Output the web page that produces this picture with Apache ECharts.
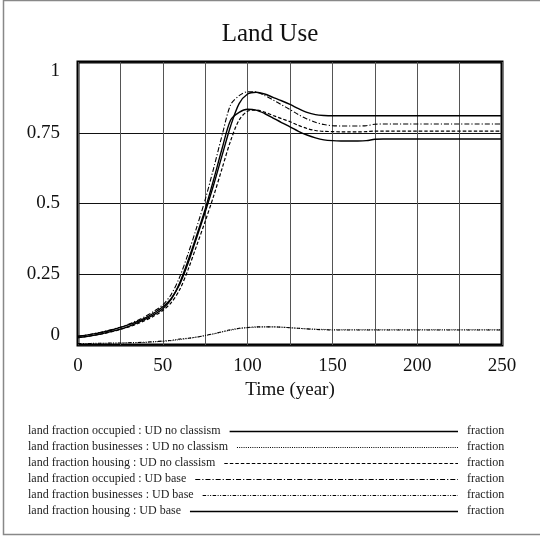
<!DOCTYPE html>
<html><head><meta charset="utf-8">
<script src="https://cdn.jsdelivr.net/npm/echarts@6/dist/echarts.min.js"></script>
<style>html,body{margin:0;padding:0;background:#fff}#c{width:540px;height:540px}</style>
</head><body><div id="c"></div>
<script>
const titleText = 'Land Use';
const xAxisName = 'Time (year)';
const unitText = 'fraction';
const years = [0,5,10,15,20,25,30,35,40,45,50,55,60,65,70,75,80,85,90,95,100,105,110,115,120,125,130,135,140,145,150,155,160,165,170,175,180,185,190,195,200,205,210,215,220,225,230,235,240,245,250];

const occupiedNoClassism = [0.031,0.035,0.040,0.046,0.053,0.062,0.072,0.083,0.097,0.114,
0.135,0.165,0.215,0.291,0.380,0.470,0.566,0.671,0.774,0.853,
0.887,0.893,0.887,0.875,0.863,0.850,0.835,0.822,0.814,0.811,
0.810,0.810,0.810,0.810,0.810,0.810,0.810,0.810,0.810,0.810,
0.810,0.810,0.810,0.810,0.810,0.810,0.810,0.810,0.810,0.810,0.810];

const businessesNoClassism = [0.005,0.005,0.005,0.006,0.006,0.007,0.008,0.008,0.009,0.011,
0.013,0.015,0.019,0.023,0.028,0.033,0.039,0.046,0.052,0.058,
0.061,0.063,0.064,0.064,0.063,0.061,0.059,0.057,0.056,0.055,
0.054,0.054,0.054,0.054,0.054,0.054,0.054,0.054,0.054,0.054,
0.054,0.054,0.054,0.054,0.054,0.054,0.054,0.054,0.054,0.054,0.054];

const housingNoClassism = [0.026,0.030,0.035,0.040,0.047,0.055,0.064,0.075,0.088,0.103,
0.122,0.150,0.196,0.268,0.352,0.437,0.527,0.625,0.722,0.795,
0.826,0.830,0.823,0.811,0.800,0.789,0.776,0.765,0.758,0.755,
0.754,0.753,0.753,0.753,0.754,0.756,0.756,0.756,0.756,0.756,
0.756,0.756,0.756,0.756,0.756,0.756,0.756,0.756,0.756,0.756,0.756];

const occupiedBase = [0.031,0.035,0.041,0.047,0.055,0.063,0.074,0.087,0.102,0.120,
0.142,0.179,0.241,0.324,0.416,0.514,0.625,0.742,0.849,0.881,
0.895,0.894,0.882,0.866,0.849,0.832,0.814,0.799,0.787,0.779,
0.775,0.774,0.774,0.774,0.775,0.780,0.781,0.781,0.781,0.781,
0.781,0.781,0.781,0.781,0.781,0.781,0.781,0.781,0.781,0.781,0.781];

const businessesBase = [0.005,0.005,0.006,0.006,0.007,0.007,0.008,0.009,0.010,0.012,
0.014,0.017,0.021,0.024,0.028,0.034,0.040,0.047,0.054,0.059,
0.062,0.064,0.064,0.064,0.063,0.061,0.059,0.057,0.055,0.054,
0.053,0.053,0.053,0.053,0.053,0.053,0.053,0.053,0.053,0.053,
0.053,0.053,0.053,0.053,0.053,0.053,0.053,0.053,0.053,0.053,0.053];

const housingBase = [0.026,0.030,0.035,0.041,0.048,0.056,0.066,0.078,0.092,0.108,
0.128,0.162,0.220,0.300,0.388,0.480,0.585,0.695,0.795,0.822,
0.833,0.830,0.818,0.802,0.786,0.771,0.755,0.742,0.732,0.725,
0.722,0.721,0.721,0.721,0.722,0.727,0.728,0.728,0.728,0.728,
0.728,0.728,0.728,0.728,0.728,0.728,0.728,0.728,0.728,0.728,0.728];

const FONT = '"Liberation Serif", "Times New Roman", serif';

const seriesDefs = [
  {name:'land fraction occupied : UD no classism', data:occupiedNoClassism, dash:'solid', width:1.4, color:'#000'},
  {name:'land fraction businesses : UD no classism', data:businessesNoClassism, dash:[1,1.2], width:1, color:'#333'},
  {name:'land fraction housing : UD no classism', data:housingNoClassism, dash:[3.5,2], width:1.2, color:'#000'},
  {name:'land fraction occupied : UD base', data:occupiedBase, dash:[5,2,1.2,2], width:1.1, color:'#000'},
  {name:'land fraction businesses : UD base', data:businessesBase, dash:[3.5,1.5,1,1.5,1,1.5], width:1.1, color:'#000'},
  {name:'land fraction housing : UD base', data:housingBase, dash:'solid', width:1.4, color:'#000'}
];

function textWidth(t, size){
  const c = document.createElement('canvas').getContext('2d');
  c.font = size + 'px ' + FONT;
  return c.measureText(t).width;
}

const legendSize = 12;
const legendGraphics = [];
seriesDefs.forEach(function(s, i){
  const y = 431 + 16 * i;
  const w = textWidth(s.name, legendSize);
  legendGraphics.push({type:'text', x:28, y:y, silent:true,
    style:{text:s.name, font: legendSize + 'px ' + FONT, fill:'#222', textVerticalAlign:'middle', verticalAlign:'middle'}});
  legendGraphics.push({type:'line', silent:true,
    shape:{x1:28 + w + 9, y1:y + 0.5, x2:458, y2:y + 0.5},
    style:{stroke:'#000', lineWidth: s.width, lineDash: s.dash === 'solid' ? null : s.dash}});
  legendGraphics.push({type:'text', x:467, y:y, silent:true,
    style:{text:unitText, font: legendSize + 'px ' + FONT, fill:'#222', textVerticalAlign:'middle', verticalAlign:'middle'}});
});

const chart = echarts.init(document.getElementById('c'), null, {renderer:'canvas'});
chart.setOption({
  animation:false,
  backgroundColor:'#fff',
  title:{text:titleText, left:'center', top:22, padding:[0,0,0,6],
    textStyle:{fontFamily:FONT, fontSize:25, fontWeight:'normal', color:'#111'}},
  grid:{left:78, top:62, right:38, bottom:195, show:true, borderColor:'#000', borderWidth:3, containLabel:false},
  xAxis:{type:'value', min:0, max:250, interval:50,
    name:xAxisName, nameLocation:'middle', nameGap:25,
    nameTextStyle:{fontFamily:FONT, fontSize:19, color:'#111'},
    axisLine:{show:false}, axisTick:{show:false},
    axisLabel:{fontFamily:FONT, fontSize:19, color:'#111', margin:12},
    splitLine:{show:true, lineStyle:{color:'#555', width:1}},
    minorTick:{show:false, splitNumber:2},
    minorSplitLine:{show:true, lineStyle:{color:'#555', width:1}}
  },
  yAxis:{type:'value', min:0, max:1, interval:0.25,
    axisLine:{show:false}, axisTick:{show:false},
    axisLabel:{fontFamily:FONT, fontSize:19, color:'#111', margin:18,
      verticalAlignMinLabel:'bottom', verticalAlignMaxLabel:'top'},
    splitLine:{show:true, lineStyle:{color:'#111', width:1}}
  },
  graphic:[
    {type:'rect', silent:true, z:-10, shape:{x:3.5, y:0.5, width:540, height:534},
      style:{fill:'none', stroke:'#888', lineWidth:1.5}}
  ].concat(legendGraphics),
  series: seriesDefs.map(function(s){
    return {type:'line', name:s.name, showSymbol:false, symbol:'none', smooth:0.3,
      silent:true, z:3,
      data: years.map(function(t, k){ return [t, s.data[k]]; }),
      lineStyle:{color:s.color, width:s.width, type:s.dash}};
  })
});
</script></body></html>
